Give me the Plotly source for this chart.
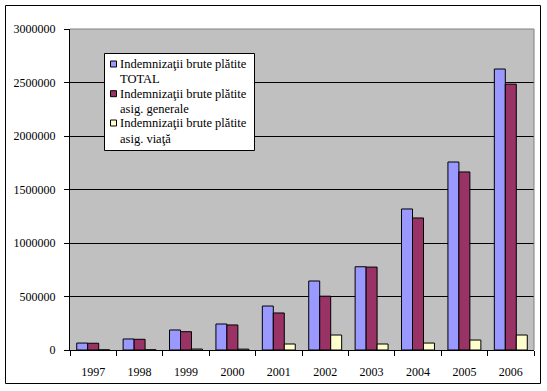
import plotly.graph_objects as go

years = ["1997", "1998", "1999", "2000", "2001", "2002", "2003", "2004", "2005", "2006"]
total = [65000, 103000, 187000, 243000, 411000, 645000, 778000, 1318000, 1757000, 2626000]
generale = [63000, 100000, 171000, 234000, 346000, 503000, 775000, 1234000, 1664000, 2485000]
viata = [1000, 2000, 9000, 8000, 56000, 140000, 56000, 65000, 93000, 140000]

legend_lines = [["Indemnizaţii brute plătite", "TOTAL"],
                ["Indemnizaţii brute plătite", "asig. generale"],
                ["Indemnizaţii brute plătite", "asig. viaţă"]]
colors = ["#9999FF", "#993366", "#FFFFCC"]
y_ticks = [0, 500000, 1000000, 1500000, 2000000, 2500000, 3000000]

FAM = "Liberation Serif"
L, R, T, B = 70, 13, 29, 41
W, H = 547, 391
PW, PH = W - L - R, H - T - B


def px(x):
    return (x - L) / PW


def py(y):
    return (H - B - y) / PH


fig = go.Figure()
for vals, lines, c in zip([total, generale, viata], legend_lines, colors):
    fig.add_trace(go.Bar(x=years, y=vals, name=" ".join(lines), showlegend=False,
                         marker=dict(color=c, line=dict(color="black", width=1))))

font = dict(family=FAM, size=12, color="black")

shapes = [
    dict(type="line", xref="paper", yref="paper", x0=0, x1=1, y0=1, y1=1,
         line=dict(color="#808080", width=1)),
    dict(type="line", xref="paper", yref="paper", x0=1, x1=1, y0=0, y1=1,
         line=dict(color="#808080", width=1)),
    dict(type="rect", xref="paper", yref="paper", x0=px(5.5), x1=px(540.5),
         y0=py(383.5), y1=py(5.5), line=dict(color="black", width=1)),
    # legend box
    dict(type="rect", xref="paper", yref="paper", x0=px(104.5), x1=px(254.5),
         y0=py(150.5), y1=py(53.5), line=dict(color="black", width=1),
         fillcolor="white"),
]
annotations = []
centers = [64, 93.7, 123]
for c, col, lines in zip(centers, colors, legend_lines):
    shapes.append(dict(type="rect", xref="paper", yref="paper",
                       x0=px(110.5), x1=px(116.5), y0=py(c + 3), y1=py(c - 3),
                       line=dict(color="black", width=1), fillcolor=col))
    for i, t in enumerate(lines):
        annotations.append(dict(xref="paper", yref="paper", x=px(119), y=py(c + 15.5 * i),
                                xanchor="left", yanchor="middle", text=t, showarrow=False,
                                borderpad=0,
                                font=dict(family=FAM, size=12.5, color="black")))

fig.update_layout(
    width=W, height=H,
    margin=dict(l=L, r=R, t=T, b=B),
    paper_bgcolor="white", plot_bgcolor="#C0C0C0",
    barmode="group", bargap=0.29, bargroupgap=0,
    font=font,
    showlegend=False,
    xaxis=dict(showline=True, linecolor="black", linewidth=1, ticks="outside",
               tickson="boundaries", ticklen=5, tickcolor="black", showgrid=False,
               tickfont=font, ticklabelstandoff=11),
    yaxis=dict(range=[0, 3000000], tickvals=y_ticks, ticktext=[str(v) for v in y_ticks],
               showline=True, linecolor="black", linewidth=1, ticks="outside", ticklen=5,
               tickcolor="black", showgrid=True, gridcolor="black", gridwidth=1,
               zeroline=False, tickfont=font, ticklabelstandoff=6),
    shapes=shapes,
    annotations=annotations,
)

fig.write_html("out.html", config={"displayModeBar": False},
               post_script="document.body.style.margin='0';")
